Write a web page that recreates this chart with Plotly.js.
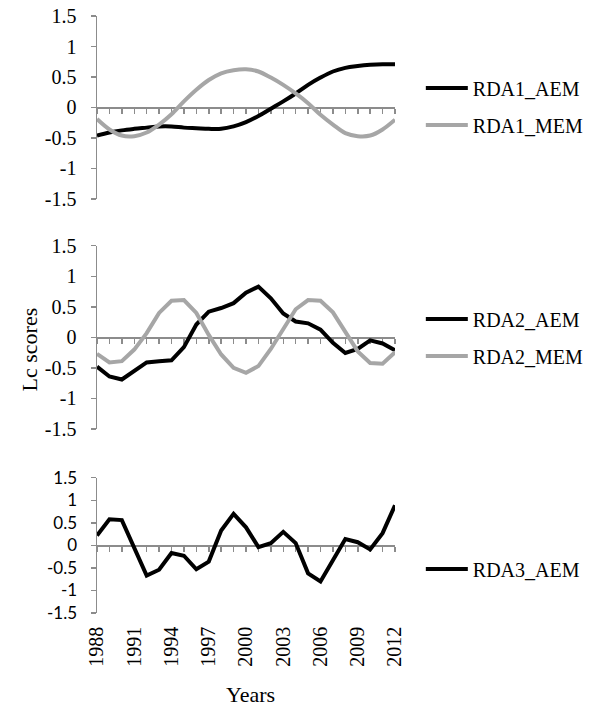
<!DOCTYPE html>
<html>
<head>
<meta charset="utf-8">
<script src="https://cdn.plot.ly/plotly-3.0.1.min.js"></script>
<style>html,body{margin:0;padding:0;background:#fff;}#chart{width:601px;height:706px;}</style>
</head>
<body>
<div id="chart"></div>
<script>
// ---- data ----
const years = [1988,1989,1990,1991,1992,1993,1994,1995,1996,1997,1998,1999,2000,2001,2002,2003,2004,2005,2006,2007,2008,2009,2010,2011,2012];
const rda1_aem = [-0.46,-0.41,-0.375,-0.35,-0.33,-0.31,-0.31,-0.33,-0.34,-0.35,-0.35,-0.31,-0.24,-0.14,-0.02,0.10,0.23,0.37,0.49,0.59,0.65,0.68,0.70,0.71,0.71];
const rda1_mem = [-0.19,-0.36,-0.46,-0.47,-0.41,-0.28,-0.11,0.10,0.29,0.45,0.56,0.61,0.625,0.59,0.49,0.37,0.23,0.07,-0.12,-0.28,-0.42,-0.47,-0.46,-0.36,-0.20];
const rda2_aem = [-0.48,-0.64,-0.69,-0.55,-0.41,-0.39,-0.375,-0.16,0.21,0.42,0.48,0.56,0.73,0.83,0.64,0.39,0.26,0.23,0.125,-0.09,-0.255,-0.19,-0.05,-0.10,-0.21];
const rda2_mem = [-0.27,-0.41,-0.39,-0.20,0.07,0.40,0.60,0.61,0.40,0.04,-0.28,-0.50,-0.58,-0.47,-0.19,0.15,0.46,0.61,0.60,0.41,0.10,-0.23,-0.42,-0.43,-0.245];
const rda3_aem = [0.22,0.58,0.56,-0.04,-0.67,-0.54,-0.17,-0.23,-0.53,-0.36,0.33,0.70,0.40,-0.04,0.05,0.30,0.05,-0.62,-0.80,-0.33,0.14,0.07,-0.09,0.27,0.89];
const yearTickVals = [1988,1991,1994,1997,2000,2003,2006,2009,2012];
const yearTickText = ['1988','1991','1994','1997','2000','2003','2006','2009','2012'];
const yTickVals = [1.5,1,0.5,0,-0.5,-1,-1.5];
const yTickText = ['1.5','1','0.5','0','-0.5','-1','-1.5'];
const seriesNames = ['RDA1_AEM','RDA1_MEM','RDA2_AEM','RDA2_MEM','RDA3_AEM'];

// ---- styling ----
const SERIF = 'Liberation Serif, Times New Roman, serif';
const SANS = 'Lato, Liberation Sans, Arial, sans-serif';
const BLACK = '#000000';
const GREY = '#a6a6a6';
const AXC = '#8c8c8c';

const topDom = [0.6935, 1];
const midDom = [0.3082, 0.6152];
const botDom = [0, 0.2266];
const mid = d => (d[0] + d[1]) / 2;

function tr(y, name, color, xa, ya, leg, shape) {
  return {x: years, y: y, name: name, type: 'scatter', mode: 'lines',
    line: {color: color, width: 4, shape: shape}, xaxis: xa, yaxis: ya, legend: leg};
}
const data = [
  tr(rda1_aem, seriesNames[0], BLACK, 'x2', 'y', 'legend', 'spline'),
  tr(rda1_mem, seriesNames[1], GREY, 'x2', 'y', 'legend2', 'spline'),
  tr(rda2_aem, seriesNames[2], BLACK, 'x3', 'y2', 'legend3', 'linear'),
  tr(rda2_mem, seriesNames[3], GREY, 'x3', 'y2', 'legend4', 'linear'),
  tr(rda3_aem, seriesNames[4], BLACK, 'x', 'y3', 'legend5', 'linear')
];

function zeroAxis(pos) {
  return {overlaying: 'x', anchor: 'free', position: pos, range: [1988, 2012],
    showline: true, linecolor: AXC, linewidth: 1.5, ticks: 'outside', ticklen: 5,
    tickwidth: 1.5, tickcolor: AXC, dtick: 1, tick0: 1988, showticklabels: false,
    showgrid: false, zeroline: false, layer: 'below traces', fixedrange: true};
}
function yAxis(dom, font) {
  return {domain: dom, anchor: 'x', position: 0, range: [-1.5, 1.5], tickmode: 'array',
    tickvals: yTickVals, ticktext: yTickText, showline: true, linecolor: AXC, linewidth: 1.5,
    ticks: 'outside', ticklen: 5, tickwidth: 1.5, tickcolor: AXC, showgrid: false,
    zeroline: false, tickfont: font, ticklabelstandoff: 10, layer: 'below traces',
    automargin: false, fixedrange: true};
}
function legendAt(py) {
  return {x: (423 - 97) / 300, xanchor: 'left', y: (613 - py) / 597, yanchor: 'middle',
    bgcolor: 'rgba(0,0,0,0)', borderwidth: 0, itemwidth: 42,
    font: {family: SERIF, size: 20, color: '#000'}};
}

const layout = {
  width: 601, height: 706,
  margin: {l: 97, r: 204, t: 16, b: 93},
  paper_bgcolor: '#fff', plot_bgcolor: 'rgba(0,0,0,0)',
  showlegend: true,
  // bottom panel axis: line at y=0, year labels pushed down below the panel
  xaxis: {anchor: 'free', position: mid(botDom), range: [1988, 2012], tickmode: 'array',
    tickvals: yearTickVals, ticktext: yearTickText, tickangle: -90,
    ticks: 'outside', ticklen: 5, tickwidth: 1.5, tickcolor: AXC,
    minor: {dtick: 1, tick0: 1988, ticks: 'outside', ticklen: 5, tickwidth: 1.5, tickcolor: AXC},
    showline: true, linecolor: AXC, linewidth: 1.5, showgrid: false, zeroline: false,
    tickfont: {family: SERIF, size: 20, color: '#000'}, layer: 'below traces',
    ticklabelstandoff: 67, automargin: false, fixedrange: true},
  xaxis2: zeroAxis(mid(topDom)),
  xaxis3: zeroAxis(mid(midDom)),
  yaxis: yAxis(topDom, {family: SERIF, size: 20, color: '#000'}),
  yaxis2: yAxis(midDom, {family: SERIF, size: 20, color: '#000'}),
  yaxis3: yAxis(botDom, {family: SANS, size: 17, color: '#000'}),
  legend: legendAt(88),
  legend2: legendAt(125),
  legend3: legendAt(319),
  legend4: legendAt(356),
  legend5: legendAt(569),
  annotations: [
    {text: 'Lc scores', xref: 'paper', yref: 'paper', x: (29 - 97) / 300,
      y: (613 - 349) / 597, xanchor: 'center', yanchor: 'middle', textangle: -90,
      showarrow: false, font: {family: SERIF, size: 22, color: '#000'}},
    {text: 'Years', xref: 'paper', yref: 'paper', x: (252 - 97) / 300,
      y: (613 - 694) / 597, xanchor: 'center', yanchor: 'middle',
      showarrow: false, font: {family: SERIF, size: 22, color: '#000'}}
  ]
};

Plotly.newPlot('chart', data, layout, {displayModeBar: false, staticPlot: true});
</script>
</body>
</html>
